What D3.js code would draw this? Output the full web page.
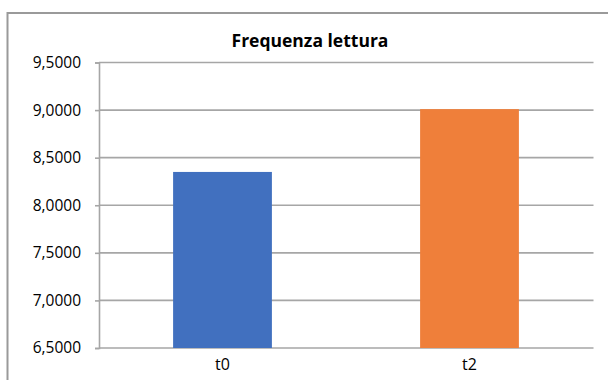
<!DOCTYPE html>
<html>
<head>
<meta charset="utf-8">
<script src="https://cdn.jsdelivr.net/npm/d3@7"></script>
<style>
  html, body { margin: 0; padding: 0; background: #fff; }
  svg { display: block; }
</style>
</head>
<body>
<script>
// Chart data
const title = "Frequenza lettura";
const categories = ["t0", "t2"];
const values = [8.35, 9.01];
const barColors = ["#4170BF", "#EF7F3A"];
const yTicks = [6.5, 7.0, 7.5, 8.0, 8.5, 9.0, 9.5];

const W = 608, H = 380;
const margin = { left: 99, right: 15, top: 62.5, bottom: 32 };

const svg = d3.select("body").append("svg")
  .attr("width", W).attr("height", H);

// Outer chart frame (only the top and left edges fall inside the view)
svg.append("rect")
  .attr("x", 7.5).attr("y", 13)
  .attr("width", W + 20).attr("height", H + 20)
  .attr("fill", "none").attr("stroke", "#9a9a9a").attr("stroke-width", 2);

const x = d3.scaleBand()
  .domain(categories)
  .range([margin.left, W - margin.right])
  .paddingInner(0.6).paddingOuter(0.3);

const y = d3.scaleLinear()
  .domain([6.5, 9.5])
  .range([H - margin.bottom, margin.top]);

const fmt = v => d3.format(".4f")(v).replace(".", ",");

// Gridlines
svg.append("g")
  .selectAll("line")
  .data(yTicks)
  .join("line")
  .attr("x1", margin.left).attr("x2", W - margin.right + 0.5)
  .attr("y1", d => y(d)).attr("y2", d => y(d))
  .attr("stroke", "#a6a6a6").attr("stroke-width", 1.6);

// Y axis
const yAxis = d3.axisLeft(y).tickValues(yTicks).tickFormat(fmt).tickSize(4).tickPadding(14);
const gy = svg.append("g")
  .attr("transform", `translate(${margin.left},0)`)
  .call(yAxis);
gy.select(".domain").attr("stroke", "#a6a6a6").attr("stroke-width", 1.6);
gy.selectAll(".tick line").attr("stroke", "#a6a6a6").attr("stroke-width", 1.6);
gy.selectAll(".tick text")
  .attr("fill", "#000")
  .style("font-family", "'Open Sans', sans-serif")
  .style("font-weight", "500")
  .style("font-size", "15.5px");

// Bars
svg.append("g")
  .selectAll("rect")
  .data(categories)
  .join("rect")
  .attr("x", d => x(d))
  .attr("width", x.bandwidth())
  .attr("y", (d, i) => y(values[i]))
  .attr("height", (d, i) => y(6.5) - y(values[i]))
  .attr("fill", (d, i) => barColors[i]);

// X axis labels
const xAxis = d3.axisBottom(x).tickSize(0).tickPadding(11);
const gx = svg.append("g")
  .attr("transform", `translate(0,${y(6.5)})`)
  .call(xAxis);
gx.select(".domain").remove();
gx.selectAll(".tick text")
  .attr("fill", "#000")
  .style("font-family", "'Open Sans', sans-serif")
  .style("font-weight", "500")
  .style("font-size", "16px");

// Title
svg.append("text")
  .attr("x", 310).attr("y", 47)
  .attr("text-anchor", "middle")
  .attr("fill", "#000")
  .style("font-family", "'Open Sans', sans-serif")
  .style("font-weight", "bold")
  .style("font-size", "17.5px")
  .text(title);
</script>
</body>
</html>
